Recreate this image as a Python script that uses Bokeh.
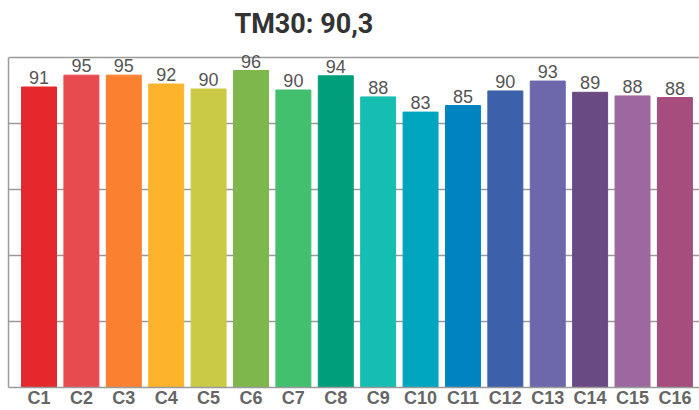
from bokeh.plotting import figure
from bokeh.models import ColumnDataSource, FixedTicker, Range1d, Label
from bokeh.core.properties import value
from bokeh.embed import file_html
from bokeh.resources import INLINE

categories = ["C1", "C2", "C3", "C4", "C5", "C6", "C7", "C8",
              "C9", "C10", "C11", "C12", "C13", "C14", "C15", "C16"]
scores = [91.0, 94.6, 94.6, 91.9, 90.4, 96.0, 90.1, 94.4,
          88.0, 83.4, 85.4, 89.8, 92.8, 89.4, 88.3, 87.8]
colors = ["#E5282B", "#E84B4F", "#FB802F", "#FDB42B", "#CBCA47", "#7EB74C",
          "#42C06D", "#009F7B", "#16BDB1", "#00A6BF", "#0083C1", "#3C60A9",
          "#6D67AC", "#6A4A83", "#9D68A0", "#A64D7E"]
grid_values = [20, 40, 60, 80, 100]
title_text = "TM30: 90,3"

xs = list(range(len(categories)))
labels = [str(int(round(v))) for v in scores]
src = ColumnDataSource(dict(x=xs, top=scores, color=colors, label=labels))

# frame spans the full height above the axis; the region above 100 holds the title
p = figure(width=699, height=410, output_backend="svg", toolbar_location=None,
           x_range=Range1d(-0.72, 15.58), y_range=Range1d(0, 117.2),
           min_border_left=8, min_border_right=0, min_border_top=0, min_border_bottom=0)
p.title.visible = False

p.add_layout(Label(x=226, y=110.2, x_units="screen", y_units="data", text=title_text,
                   text_align="left", text_baseline="alphabetic",
                   text_font="Roboto", text_font_style="bold", text_font_size="27px",
                   text_color="#333333"))

p.vbar(x="x", top="top", bottom=0, width=0.825, color="color", source=src)
p.text(x="x", y="top", text="label", source=src, text_align="center",
       text_baseline="bottom", y_offset=-3,
       text_font=value("Liberation Sans"), text_font_size="18px", text_color="#555555")

p.outline_line_color = None
p.xgrid.grid_line_color = None
p.ygrid.ticker = FixedTicker(ticks=grid_values)
p.ygrid.grid_line_color = "#9a9a9a"
p.ygrid.grid_line_width = 1.3

ya = p.yaxis[0]
ya.ticker = FixedTicker(ticks=[])
ya.bounds = (0, 100)
ya.major_tick_out = 0
ya.major_tick_in = 0
ya.minor_tick_out = 0
ya.minor_tick_in = 0
ya.major_label_standoff = 0
ya.major_label_text_font_size = "0px"
ya.axis_line_color = "#9a9a9a"
ya.axis_line_width = 1.5

xa = p.xaxis[0]
xa.ticker = FixedTicker(ticks=xs)
xa.major_label_overrides = {i: c for i, c in zip(xs, categories)}
xa.major_tick_line_color = None
xa.minor_tick_line_color = None
xa.major_tick_out = 0
xa.major_tick_in = 0
xa.minor_tick_out = 0
xa.minor_tick_in = 0
xa.axis_line_color = "#9a9a9a"
xa.axis_line_width = 1.5
xa.major_label_standoff = 0
xa.major_label_text_font = "Liberation Sans"
xa.major_label_text_font_style = "bold"
xa.major_label_text_font_size = "18px"
xa.major_label_text_color = "#666666"

open("out.html", "w").write(file_html(p, INLINE))
